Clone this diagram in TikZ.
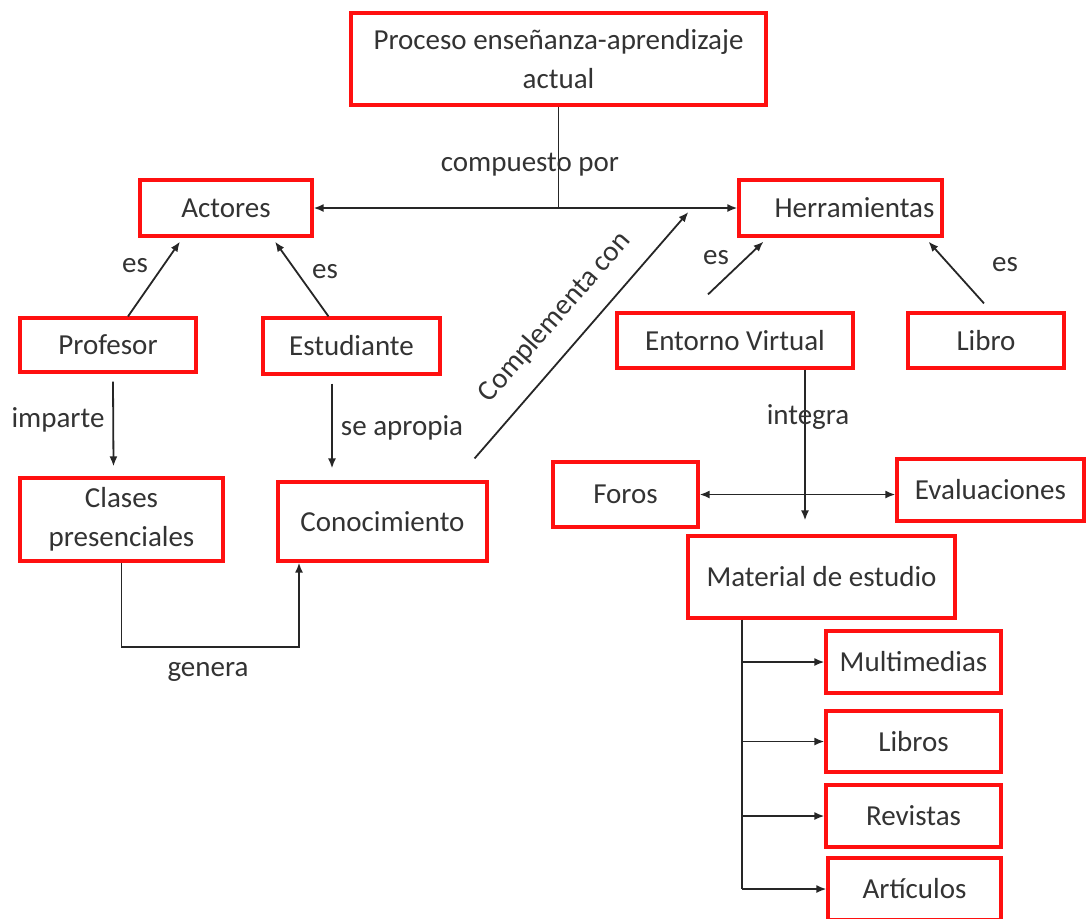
\documentclass[tikz,border=0pt]{standalone}
\usepackage{fontspec}
\setmainfont{Carlito}
\usetikzlibrary{arrows.meta,calc}
\definecolor{txt}{HTML}{333333}
\definecolor{boxred}{HTML}{FF1010}
\begin{document}
\begin{tikzpicture}[x=0.5pt,y=-0.5pt,
  box/.style={draw=boxred,line width=1.6pt,fill=white,text=txt,inner sep=0pt,align=center,
    font=\fontsize{14.5}{19.5}\selectfont},
  lab/.style={text=txt,inner sep=0pt,font=\fontsize{14.5}{17}\selectfont},
  con/.style={draw=black!85,line width=0.9pt},
  arr/.style={con,-{Latex[length=5pt,width=4pt]}},
  darr/.style={con,{Latex[length=5pt,width=4pt]}-{Latex[length=5pt,width=4pt]}}]
\useasboundingbox (0,0) rectangle (1086,918);
% boxes
\node[box,minimum width=207.5pt,minimum height=46pt] (proc) at (558.5,59) {Proceso enseñanza-aprendizaje\\actual};
\node[box,minimum width=86pt,minimum height=28pt] (act) at (226,208) {Actores};
\node[box,minimum width=101.5pt,minimum height=28pt] (herr) at (840.5,208) {\hspace*{14pt}Herramientas};
\node[box,minimum width=88pt,minimum height=27pt] (prof) at (108,345) {Profesor};
\node[box,minimum width=88.5pt,minimum height=28pt] (est) at (351.5,346) {Estudiante};
\node[box,minimum width=118pt,minimum height=27.5pt] (ent) at (735,340.5) {Entorno Virtual};
\node[box,minimum width=78pt,minimum height=27.5pt] (libro) at (986,340.5) {Libro};
\node[box,minimum width=101.5pt,minimum height=41.5pt] (clases) at (121.5,519.5) {Clases\\presenciales};
\node[box,minimum width=104.5pt,minimum height=39.5pt] (con) at (382.5,521.5) {Conocimiento};
\node[box,minimum width=72.5pt,minimum height=32.5pt] (foros) at (625.5,494.5) {Foros};
\node[box,minimum width=93.5pt,minimum height=31pt] (eval) at (990.5,490) {Evaluaciones};
\node[box,minimum width=133.5pt,minimum height=41pt] (mat) at (821.5,577) {Material de estudio};
\node[box,minimum width=87.5pt,minimum height=31pt] (multi) at (913.5,662) {Multimedias};
\node[box,minimum width=87.5pt,minimum height=30.5pt] (libros) at (913.5,741.5) {Libros};
\node[box,minimum width=87.5pt,minimum height=31pt] (rev) at (913.5,816) {Revistas};
\node[box,minimum width=86.5pt,minimum height=31pt] (art) at (914.5,889) {Artículos};
% connectors
\draw[con] (proc.south) -- (proc.south |- act.east);
\draw[darr] (act.east) -- (herr.west);
\node[lab] (lcomp) at (530,165) {compuesto por};
\draw[arr] ($(prof.north)+(20,0)$) -- ($(act.south)+(-46,4)$);
\node[lab] (les1) at (135,266) {es};
\draw[arr] ($(est.north)+(-23,0)$) -- ($(act.south)+(49,4)$);
\node[lab] (les2) at (325,272) {es};
\draw[arr] ($(prof.south)+(5,8)$) -- ($(clases.north)+(-8,-10)$);
\node[lab] (limp) at (58,420) {imparte};
\draw[arr] ($(est.south)+(-19.5,8)$) -- ($(con.north)+(-50.5,-12)$);
\node[lab] (lsea) at (402,428) {se apropia};
\draw[arr] (clases.south) -- ++(0,84) -| ($(con.south)+(-83.5,0)$);
\node[lab] (lgen) at (208,672) {genera};
\draw[arr] ($(con.north east)+(-14,-22)$) -- ($(herr.west)+(-49,4)$);
\node[lab,rotate=48.8] (lcmp) at (555,317) {Complementa con};
\draw[arr] ($(ent.north)+(-27,-17)$) -- ($(herr.south)+(-77,4)$);
\node[lab] (les3) at (716,258) {es};
\draw[arr] ($(libro.north)+(-2,-8)$) -- ($(herr.south)+(88,4)$);
\node[lab] (les4) at (1005,265) {es};
\draw[arr] ($(ent.south)+(70,0)$) -- ($(mat.north)+(-16.5,-14)$);
\node[lab] (lint) at (808,417) {integra};
\draw[darr] (foros.east) -- (foros.east -| eval.west);
\draw[con] ($(mat.south)+(-79.5,0)$) coordinate (mb) -- (mb |- art.west) coordinate (mbot);
\draw[arr] (mb |- multi.west) -- (multi.west);
\draw[arr] (mb |- libros.west) -- (libros.west);
\draw[arr] (mb |- rev.west) -- (rev.west);
\draw[arr] (mbot) -- (art.west);
\end{tikzpicture}
\end{document}
